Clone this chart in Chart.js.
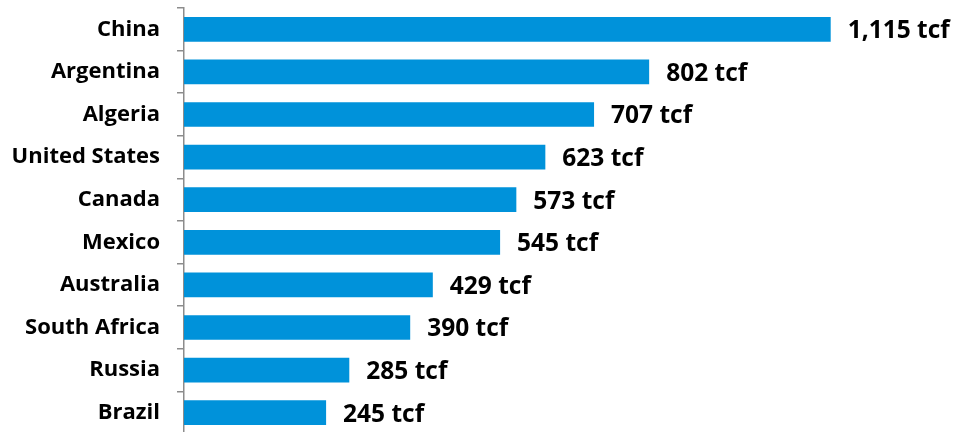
<!DOCTYPE html>
<html>
<head>
<meta charset="utf-8">
<script src="https://cdn.jsdelivr.net/npm/chart.js@4"></script>
<style>
  html, body { margin: 0; padding: 0; background: #fff; overflow: hidden; }
  #wrap { position: relative; width: 956px; height: 434px; }
</style>
</head>
<body>
<div id="wrap"><canvas id="chart"></canvas></div>
<script>
// Shale gas resources by country (trillion cubic feet)
const COUNTRIES = ['China', 'Argentina', 'Algeria', 'United States', 'Canada',
                   'Mexico', 'Australia', 'South Africa', 'Russia', 'Brazil'];
const RESOURCES_TCF = [1115, 802, 707, 623, 573, 545, 429, 390, 285, 245];
const UNIT = 'tcf';

const BAR_COLOR = '#0092DA';
const FONT = '"Open Sans", "Liberation Sans", sans-serif';

// Value labels drawn just past the end of each bar.
const valueLabels = {
  id: 'valueLabels',
  afterDatasetsDraw(chart) {
    const ctx = chart.ctx;
    const meta = chart.getDatasetMeta(0);
    ctx.save();
    ctx.font = 'bold 24.5px ' + FONT;
    ctx.fillStyle = '#000';
    ctx.textBaseline = 'middle';
    ctx.textAlign = 'left';
    meta.data.forEach((bar, i) => {
      const txt = RESOURCES_TCF[i].toLocaleString('en-US') + ' ' + UNIT;
      ctx.fillText(txt, bar.x + 17, bar.y + 2);
    });
    ctx.restore();
  }
};

new Chart(document.getElementById('chart').getContext('2d'), {
  type: 'bar',
  data: {
    labels: COUNTRIES,
    datasets: [{
      data: RESOURCES_TCF,
      backgroundColor: BAR_COLOR,
      borderWidth: 0,
      categoryPercentage: 1,
      barPercentage: 0.58
    }]
  },
  options: {
    indexAxis: 'y',
    responsive: true,
    maintainAspectRatio: false,
    animation: false,
    layout: {padding: {top: 8, bottom: 0, left: 0, right: 76}},
    plugins: {
      legend: {display: false},
      tooltip: {enabled: false}
    },
    scales: {
      x: {
        min: 0,
        max: 1200,
        display: false
      },
      y: {
        grid: {
          display: true,
          offset: true,
          drawOnChartArea: false,
          drawTicks: true,
          tickLength: 7,
          color: '#8c8c8c',
          lineWidth: 1.5
        },
        border: {display: true, color: '#8c8c8c', width: 1.5},
        ticks: {
          color: '#000',
          padding: 17,
          font: {family: FONT, size: 22, weight: 'bold'}
        },
        afterFit: axis => {
          axis.width = 184;
          axis.paddingTop = 0;
          axis.paddingBottom = 0;
        }
      }
    }
  },
  plugins: [valueLabels]
});
</script>
</body>
</html>
